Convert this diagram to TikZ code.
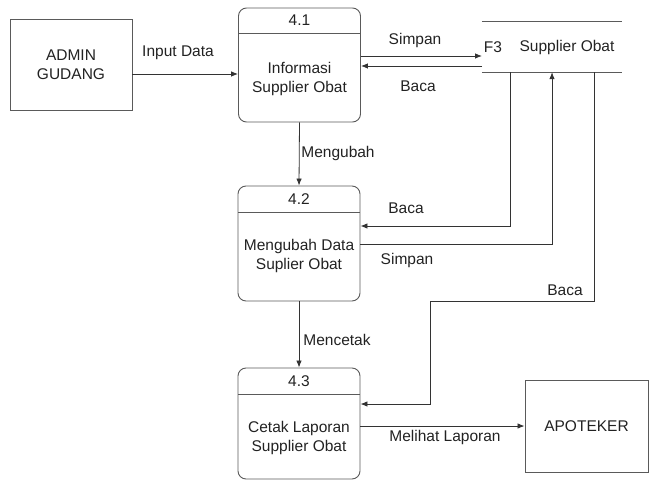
\documentclass[tikz,border=0pt]{standalone}
\usepackage{fontspec}
\setmainfont{Liberation Sans}
\usetikzlibrary{arrows.meta}
\definecolor{ln}{HTML}{333333}
\definecolor{bx}{HTML}{5A5A5A}
\definecolor{tx}{HTML}{222222}
\begin{document}
\begin{tikzpicture}[x=1pt,y=-1pt,
  every node/.style={text=tx,font=\fontsize{15.5}{19}\selectfont,inner sep=0pt},
  ent/.style={draw=bx,line width=0.9pt,rectangle},
  proc/.style={draw=bx,line width=0.9pt,rectangle,rounded corners=8pt,minimum width=122pt},
  flow/.style={draw=ln,line width=0.8pt,-{Latex[length=7pt,width=5.5pt]}},
  lbl/.style={align=center}]
\useasboundingbox (0,0) rectangle (650,481);
% entities
\node[ent,minimum width=122pt,minimum height=91pt,align=center] (adm) at (71,65) {ADMIN\\GUDANG};
\node[ent,minimum width=123pt,minimum height=92pt] (apo) at (586.5,426) {APOTEKER};
% processes
\node[proc,minimum height=114pt] (p41) at (299.5,65) {};
\draw[draw=bx,line width=0.9pt] (238,33) -- (361,33);
\node (n41) at (299.5,20) {4.1};
\node[lbl] (t41) at (299.5,79) {Informasi\\Supplier Obat};
\node[proc,minimum height=115pt] (p42) at (299,243.5) {};
\draw[draw=bx,line width=0.9pt] (238,212) -- (360,212);
\node (n42) at (299,199) {4.2};
\node[lbl] (t42) at (299,256) {Mengubah Data\\Suplier Obat};
\node[proc,minimum height=111pt] (p43) at (299,423.5) {};
\draw[draw=bx,line width=0.9pt] (238,394) -- (360,394);
\node (n43) at (299,381) {4.3};
\node[lbl] (t43) at (299,438) {Cetak Laporan\\Supplier Obat};
% data store
\node[minimum width=140pt,minimum height=50pt] (st) at (552,47) {};
\draw[draw=bx,line width=0.9pt] (st.north west) -- (st.north east);
\draw[draw=bx,line width=0.9pt] (st.south west) -- (st.south east);
\node (f3) at (493,47) {F3};
\node (stt) at (567,47) {Supplier Obat};
% reference coordinates
\coordinate (i1) at (238,74);
\coordinate (s1) at (482,56);
\coordinate (b1) at (482,66);
\coordinate (c1) at (510,226);
\coordinate (c2) at (552,244);
\coordinate (c3) at (594,301);
\coordinate (c4) at (430,404);
% connectors
\draw[flow] (adm.east |- i1) -- (p41.west |- i1);
\draw[flow] (p41.east |- s1) -- (s1);
\draw[flow] (b1) -- (p41.east |- b1);
\draw[flow] (p41.south) -- (p42.north);
\draw[flow] (st.south -| c1) -- (c1) -- (p42.east |- c1);
\draw[flow] (p42.east |- c2) -- (c2) -- (st.south -| c2);
\draw[flow] (st.south -| c3) -- (c3) -| (c4) -- (p43.east |- c4);
\draw[flow] (p42.south) -- (p43.north);
\draw[flow] (p43.east |- apo.west) -- (apo.west);
% labels
\node (l1) at (178,53) {Input Data};
\node (l2) at (415,40) {Simpan};
\node (l3) at (418,86) {Baca};
\node (l4) at (338,153) {Mengubah};
\node (l5) at (406,208) {Baca};
\node (l6) at (407,260) {Simpan};
\node (l7) at (565,290) {Baca};
\node (l8) at (337,340) {Mencetak};
\node (l9) at (445,437) {Melihat Laporan};
\end{tikzpicture}
\end{document}
